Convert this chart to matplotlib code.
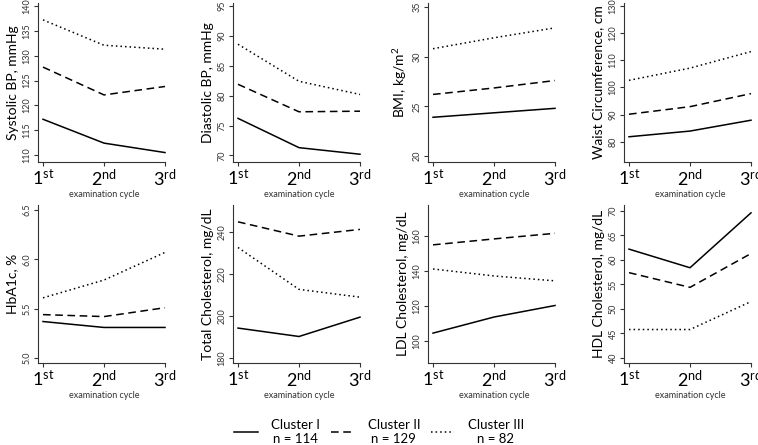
import numpy as np
import matplotlib
matplotlib.use("Agg")
import matplotlib.pyplot as plt
from matplotlib.lines import Line2D

plt.rcParams['font.family'] = ['Lato', 'DejaVu Sans']

cycles = [1, 2, 3]
cycle_labels = [r'$\mathregular{1^{st}}$', r'$\mathregular{2^{nd}}$', r'$\mathregular{3^{rd}}$']

clusters = ["Cluster I\nn = 114", "Cluster II\nn = 129", "Cluster III\nn = 82"]
styles = ['-', (0, (5, 3)), (0, (1, 2))]

# panel titles (y labels)
ylabels = ["Systolic BP, mmHg", "Diastolic BP, mmHg", r"BMI, kg/m$\mathregular{^2}$",
           "Waist Circumference, cm", "HbA1c, %", "Total Cholesterol, mg/dL",
           "LDL Cholesterol, mg/dL", "HDL Cholesterol, mg/dL"]

# values per panel: [cluster I, cluster II, cluster III]
sbp = [[117.2, 112.4, 110.5], [127.7, 122.1, 123.8], [137.2, 132.1, 131.3]]
dbp = [[76.2, 71.3, 70.2], [81.9, 77.3, 77.4], [88.6, 82.4, 80.2]]
bmi = [[23.9, 24.35, 24.8], [26.2, 26.85, 27.6], [30.8, 31.9, 32.9]]
waist = [[81.8, 83.9, 87.9], [90.1, 92.9, 97.7], [102.6, 107.1, 113.2]]
hba1c = [[5.37, 5.31, 5.31], [5.44, 5.42, 5.51], [5.61, 5.79, 6.07]]
tchol = [[194.2, 190.2, 199.4], [244.7, 237.9, 241.1], [232.5, 212.6, 208.9]]
ldl = [[104.4, 113.6, 120.2], [154.9, 158.3, 161.5], [141.1, 137.1, 134.3]]
hdl = [[62.2, 58.4, 69.6], [57.4, 54.4, 61.3], [45.8, 45.8, 51.5]]
panels = [sbp, dbp, bmi, waist, hba1c, tchol, ldl, hdl]

yticks = [np.arange(110, 141, 5), np.arange(70, 96, 5), np.arange(20, 36, 5),
          np.arange(80, 131, 10), [5.0, 5.5, 6.0, 6.5], np.arange(180, 241, 20),
          np.arange(100, 161, 20), np.arange(40, 71, 5)]
ytick_fmt = ['%d', '%d', '%d', '%d', '%.1f', '%d', '%d', '%d']
ylims = [(108.6, 140.6), (68.9, 95.5), (19.4, 35.4), (72.5, 131.1),
         (4.95, 6.55), (177.6, 252.7), (87.3, 177.7), (38.97, 71.2)]

fig = plt.figure(figsize=(7.58, 4.45), dpi=100)
W, H = 758.0, 445.0
lefts = [38, 233, 428, 624]
rows = [(3, 162), (205, 363)]
xlo, xhi = 0.918, 3.08
axw = (xhi - xlo) * 61

for i, data in enumerate(panels):
    r, c = divmod(i, 4)
    top, bot = rows[r]
    ax = fig.add_axes([lefts[c] / W, 1 - bot / H, axw / W, (bot - top) / H])
    for vals, ls in zip(data, styles):
        ax.plot(cycles, vals, color='black', linestyle=ls, linewidth=1.1)
    ax.set_xlim(xlo, xhi)
    ax.set_ylim(*ylims[i])
    ax.set_yticks(yticks[i])
    ax.set_yticklabels([ytick_fmt[i] % v for v in yticks[i]], rotation=90,
                       va='center', fontsize=6.5, color='#333333')
    ax.set_xticks(cycles)
    ax.set_xticklabels(cycle_labels, fontsize=13)
    ax.tick_params(axis='y', length=3, width=0.8, pad=1.5, color='#333333')
    ax.tick_params(axis='x', length=3, width=0.8, pad=1, color='#333333')
    ax.spines['top'].set_visible(False)
    ax.spines['right'].set_visible(False)
    ax.spines['bottom'].set_bounds(xlo, 3)
    for s in ('left', 'bottom'):
        ax.spines[s].set_linewidth(0.8)
        ax.spines[s].set_color('#333333')
    ax.set_ylabel(ylabels[i], fontsize=10, labelpad=3)
    ax.set_xlabel("examination cycle", fontsize=6.5, color='#333333', labelpad=1)

handles = [Line2D([0], [0], color='black', linestyle=ls, linewidth=1.1) for ls in styles]
leg = fig.legend(handles, clusters, loc='center', bbox_to_anchor=(0.5, 0.03), ncol=3,
                 frameon=False, fontsize=9.5, handlelength=1.8, columnspacing=0.8,
                 handletextpad=1.0)
for t in leg.get_texts():
    t.set_multialignment('center')

fig.savefig("out.png", dpi=100)
